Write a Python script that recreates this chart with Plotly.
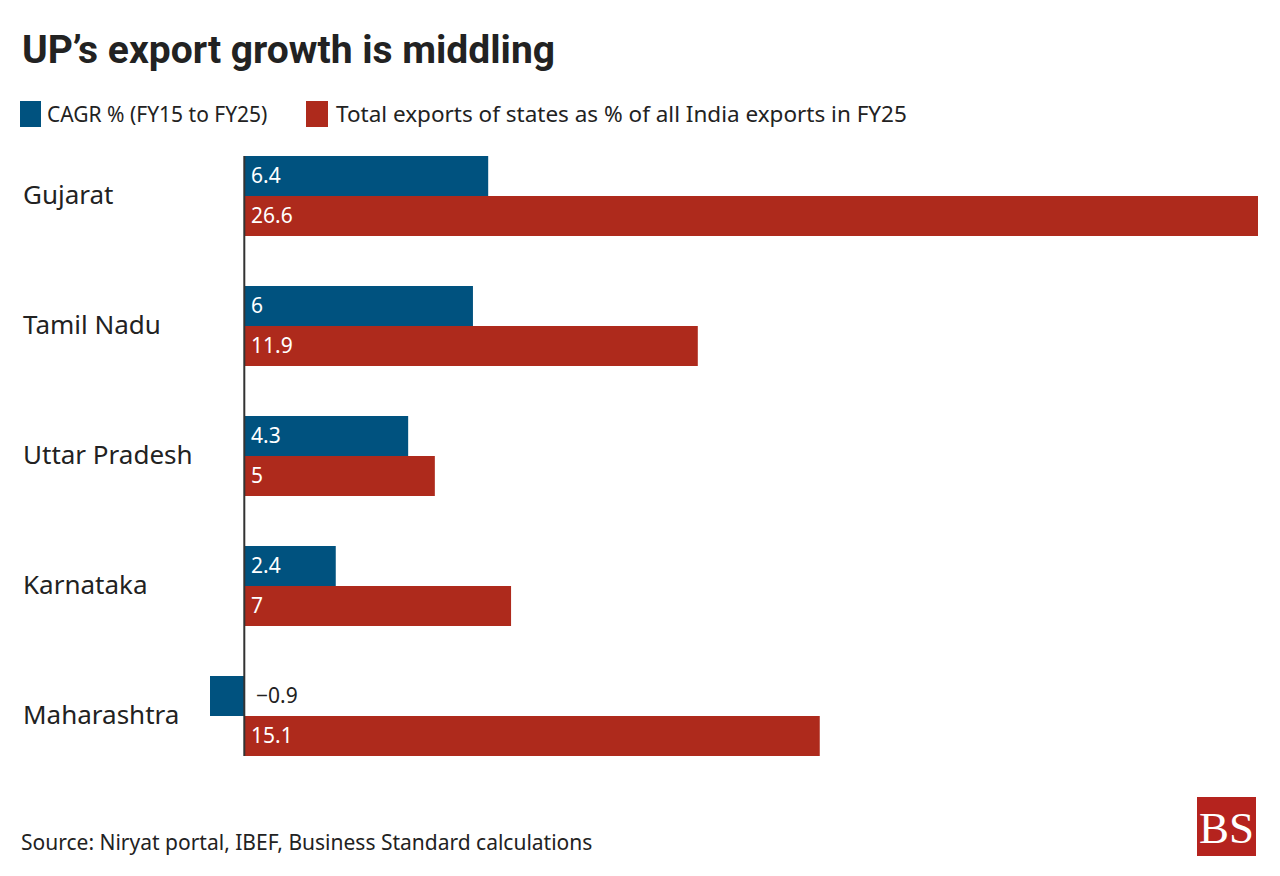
import plotly.graph_objects as go

states = ["Gujarat", "Tamil Nadu", "Uttar Pradesh", "Karnataka", "Maharashtra"]
cagr = [6.4, 6.0, 4.3, 2.4, -0.9]
share = [26.6, 11.9, 5.0, 7.0, 15.1]
series_names = ["CAGR % (FY15 to FY25)", "Total exports of states as % of all India exports in FY25"]
title_text = "UP\u2019s export growth is middling"
source_text = "Source: Niryat portal, IBEF, Business Standard calculations"

BLUE = "#00527F"
RED = "#AE2A1C"
DARK = "#222222"
BODY_FONT = "Noto Sans"

W, H = 1280, 876
ML, MR, MT, MB = 210, 22, 131, 95
PW, PH = W - ML - MR, H - MT - MB


def px(x):
    return (x - ML) / PW


def py(y):
    return (H - MB - y) / PH


def fmt(v):
    return f"{v:g}".replace("-", "\u2212")


fig = go.Figure()
fig.add_trace(go.Bar(y=states, x=cagr, orientation="h", name=series_names[0],
                     marker=dict(color=BLUE, line=dict(width=0)), showlegend=False))
fig.add_trace(go.Bar(y=states, x=share, orientation="h", name=series_names[1],
                     marker=dict(color=RED, line=dict(width=0)), showlegend=False))

annotations = []
# value labels
for s, v in zip(states, cagr):
    annotations.append(dict(x=0, y=s, xref="x", yref="y", text=fmt(v), showarrow=False,
                            xanchor="left", yanchor="middle", xshift=(5 if v >= 0 else 10), yshift=21,
                            font=dict(family=BODY_FONT, size=21, color="white" if v >= 0 else DARK)))
for s, v in zip(states, share):
    annotations.append(dict(x=0, y=s, xref="x", yref="y", text=fmt(v), showarrow=False,
                            xanchor="left", yanchor="middle", xshift=5, yshift=-19,
                            font=dict(family=BODY_FONT, size=21, color="white")))
# category labels
for s in states:
    annotations.append(dict(x=px(21), y=s, xref="paper", yref="y", text=s, showarrow=False,
                            xanchor="left", yanchor="middle", yshift=2,
                            font=dict(family=BODY_FONT, size=26, color=DARK)))
# title
annotations.append(dict(x=px(20), y=py(50), xref="paper", yref="paper", text="<b>" + title_text + "</b>",
                        showarrow=False, xanchor="left", yanchor="middle",
                        font=dict(family="Roboto", size=39, color=DARK)))
# legend texts
annotations.append(dict(x=px(45), y=py(114), xref="paper", yref="paper", text=series_names[0],
                        showarrow=False, xanchor="left", yanchor="middle",
                        font=dict(family=BODY_FONT, size=21, color=DARK)))
annotations.append(dict(x=px(334), y=py(114), xref="paper", yref="paper", text=series_names[1],
                        showarrow=False, xanchor="left", yanchor="middle",
                        font=dict(family=BODY_FONT, size=22.5, color=DARK)))
# source
annotations.append(dict(x=px(19), y=py(842), xref="paper", yref="paper", text=source_text,
                        showarrow=False, xanchor="left", yanchor="middle",
                        font=dict(family=BODY_FONT, size=21, color=DARK)))
# logo text
annotations.append(dict(x=px(1226.5), y=py(828), xref="paper", yref="paper", text="BS",
                        showarrow=False, xanchor="center", yanchor="middle",
                        font=dict(family="Liberation Serif", size=45, color="white")))

half = 0.5 * (1 - 0.385)
shapes = [
    # zero axis line
    dict(type="line", xref="x", yref="y", x0=0, x1=0, y0=-half, y1=len(states) - 1 + half,
         line=dict(color="#333333", width=2)),
    # legend swatches
    dict(type="rect", xref="paper", yref="paper", x0=px(20), x1=px(41), y0=py(101), y1=py(127),
         fillcolor=BLUE, line=dict(width=0)),
    dict(type="rect", xref="paper", yref="paper", x0=px(306), x1=px(328), y0=py(101), y1=py(127),
         fillcolor=RED, line=dict(width=0)),
    # logo box
    dict(type="rect", xref="paper", yref="paper", x0=px(1197), x1=px(1256), y0=py(797), y1=py(856),
         fillcolor="#B5231E", line=dict(width=0)),
]

fig.update_layout(
    width=W, height=H,
    margin=dict(l=ML, r=MR, t=MT, b=MB, pad=0),
    paper_bgcolor="white", plot_bgcolor="white",
    barmode="group", bargap=0.385, bargroupgap=0,
    xaxis=dict(range=[-0.9, 26.6], showgrid=False, zeroline=False, showticklabels=False,
               ticks="", showline=False, fixedrange=True),
    yaxis=dict(autorange="reversed", showgrid=False, zeroline=False, showticklabels=False,
               ticks="", showline=False, fixedrange=True),
    annotations=annotations,
    shapes=shapes,
    showlegend=False,
)

fig.write_html("out.html", config={"displayModeBar": False},
               post_script="document.body.style.margin='0';document.body.style.overflow='hidden';")
